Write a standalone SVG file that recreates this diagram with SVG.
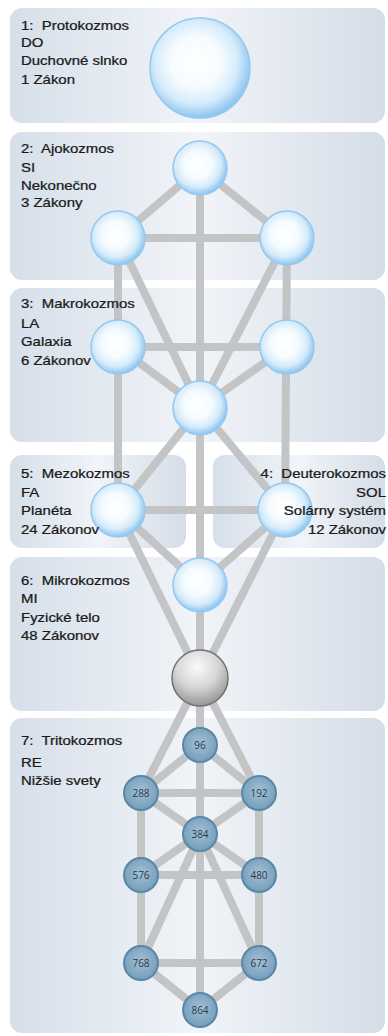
<svg xmlns="http://www.w3.org/2000/svg" width="388" height="1036" viewBox="0 0 388 1036">
<defs>
<linearGradient id="pg" x1="0" y1="0" x2="1" y2="0">
<stop offset="0" stop-color="#d6dfea"/>
<stop offset="0.5" stop-color="#f1f4f8"/>
<stop offset="1" stop-color="#d5dde8"/>
</linearGradient>
<radialGradient id="bl" cx="0.46" cy="0.44" r="0.56">
<stop offset="0" stop-color="#ffffff"/>
<stop offset="0.45" stop-color="#f6fbfe"/>
<stop offset="0.75" stop-color="#d4ebfb"/>
<stop offset="1" stop-color="#8cc4ee"/>
</radialGradient>
<radialGradient id="gr" cx="0.45" cy="0.3" r="0.75">
<stop offset="0" stop-color="#fafafa"/>
<stop offset="0.5" stop-color="#d6d6d6"/>
<stop offset="1" stop-color="#8c8c8c"/>
</radialGradient>
<radialGradient id="sb" cx="0.5" cy="0.45" r="0.6">
<stop offset="0" stop-color="#a3c2d7"/>
<stop offset="1" stop-color="#7099b7"/>
</radialGradient>
<style>
.panel{fill:url(#pg);}
.bc{fill:url(#bl);stroke:#95c9ef;stroke-width:1.5;}
.sc{fill:url(#sb);stroke:#5b87a7;stroke-width:2;}
.lbl{font-family:"Liberation Sans",Arial,sans-serif;font-size:13px;fill:#1a1a1a;stroke:#1a1a1a;stroke-width:0.25;}
.num{font-family:"Open Sans","Liberation Sans",sans-serif;font-size:10px;fill:#2b3947;text-anchor:middle;}
#connectors line{stroke:#c3c4c6;stroke-width:8;}
</style>
</defs>
<rect width="388" height="1036" fill="#ffffff"/>
<g id="panels">
<rect id="panel1" class="panel" x="10" y="8" width="375" height="115" rx="12"/>
<rect id="panel2" class="panel" x="10" y="132" width="375" height="148" rx="12"/>
<rect id="panel3" class="panel" x="10" y="288" width="375" height="154" rx="12"/>
<rect id="panel5" class="panel" x="10" y="455" width="176" height="93" rx="12"/>
<rect id="panel4" class="panel" x="213" y="455" width="172" height="93" rx="12"/>
<rect id="panel6" class="panel" x="10" y="557" width="375" height="154" rx="12"/>
<rect id="panel7" class="panel" x="10" y="718" width="375" height="315" rx="12"/>
</g>
<g id="connectors">
<line x1="200" y1="168" x2="200" y2="1010"/>
<line x1="200" y1="168" x2="118" y2="238"/>
<line x1="200" y1="168" x2="287" y2="238"/>
<line x1="118" y1="238" x2="287" y2="238"/>
<line x1="118" y1="238" x2="118" y2="510"/>
<line x1="287" y1="238" x2="285" y2="510"/>
<line x1="118" y1="238" x2="200" y2="408"/>
<line x1="287" y1="238" x2="200" y2="408"/>
<line x1="118" y1="347" x2="287" y2="347"/>
<line x1="118" y1="347" x2="200" y2="408"/>
<line x1="287" y1="347" x2="200" y2="408"/>
<line x1="200" y1="408" x2="118" y2="510"/>
<line x1="200" y1="408" x2="285" y2="510"/>
<line x1="118" y1="510" x2="285" y2="510"/>
<line x1="118" y1="510" x2="200" y2="585"/>
<line x1="285" y1="510" x2="200" y2="585"/>
<line x1="118" y1="510" x2="200" y2="678"/>
<line x1="285" y1="510" x2="200" y2="678"/>
<line x1="200" y1="678" x2="141" y2="793"/>
<line x1="200" y1="678" x2="259" y2="793"/>
<line x1="200" y1="745" x2="141" y2="793"/>
<line x1="200" y1="745" x2="259" y2="793"/>
<line x1="141" y1="793" x2="259" y2="793"/>
<line x1="141" y1="793" x2="200" y2="834"/>
<line x1="259" y1="793" x2="200" y2="834"/>
<line x1="141" y1="793" x2="141" y2="963"/>
<line x1="259" y1="793" x2="259" y2="963"/>
<line x1="141" y1="875" x2="259" y2="875"/>
<line x1="200" y1="834" x2="141" y2="875"/>
<line x1="200" y1="834" x2="259" y2="875"/>
<line x1="200" y1="834" x2="141" y2="963"/>
<line x1="200" y1="834" x2="259" y2="963"/>
<line x1="141" y1="963" x2="259" y2="963"/>
<line x1="141" y1="963" x2="200" y2="1010"/>
<line x1="259" y1="963" x2="200" y2="1010"/>
</g>
<g id="n-do"><circle class="bc" cx="200" cy="68" r="50"/></g>
<g id="n-si-top"><circle class="bc" cx="200" cy="168" r="27"/></g>
<g id="n-si-left"><circle class="bc" cx="118" cy="238" r="27"/></g>
<g id="n-si-right"><circle class="bc" cx="287" cy="238" r="27"/></g>
<g id="n-la-left"><circle class="bc" cx="118" cy="347" r="27"/></g>
<g id="n-la-right"><circle class="bc" cx="287" cy="347" r="27"/></g>
<g id="n-la-center"><circle class="bc" cx="200" cy="408" r="27"/></g>
<g id="n-fa"><circle class="bc" cx="118" cy="510" r="27"/></g>
<g id="n-sol"><circle class="bc" cx="285" cy="510" r="27"/></g>
<g id="n-mi"><circle class="bc" cx="200" cy="585" r="27"/></g>
<g id="n-sphere"><circle cx="200" cy="678" r="28" fill="url(#gr)" stroke="#727272" stroke-width="1.5"/></g>
<g id="n-96"><circle class="sc" cx="200" cy="745" r="17"/><text class="num" x="200" y="749">96</text></g>
<g id="n-288"><circle class="sc" cx="141" cy="793" r="17"/><text class="num" x="141" y="797">288</text></g>
<g id="n-192"><circle class="sc" cx="259" cy="793" r="17"/><text class="num" x="259" y="797">192</text></g>
<g id="n-384"><circle class="sc" cx="200" cy="834" r="17"/><text class="num" x="200" y="838">384</text></g>
<g id="n-576"><circle class="sc" cx="141" cy="875" r="17"/><text class="num" x="141" y="879">576</text></g>
<g id="n-480"><circle class="sc" cx="259" cy="875" r="17"/><text class="num" x="259" y="879">480</text></g>
<g id="n-768"><circle class="sc" cx="141" cy="963" r="17"/><text class="num" x="141" y="967">768</text></g>
<g id="n-672"><circle class="sc" cx="259" cy="963" r="17"/><text class="num" x="259" y="967">672</text></g>
<g id="n-864"><circle class="sc" cx="200" cy="1010" r="17"/><text class="num" x="200" y="1014">864</text></g>
<g id="labels" class="lbl">
<g transform="translate(21,0) scale(1.15,1)">
<text x="0" y="30">1:&#160; Protokozmos</text>
<text x="0" y="47">DO</text>
<text x="0" y="65">Duchovné slnko</text>
<text x="0" y="84">1 Zákon</text>
</g>
<g transform="translate(21,0) scale(1.15,1)">
<text x="0" y="153">2:&#160; Ajokozmos</text>
<text x="0" y="172">SI</text>
<text x="0" y="190">Nekonečno</text>
<text x="0" y="207">3 Zákony</text>
</g>
<g transform="translate(21,0) scale(1.15,1)">
<text x="0" y="308">3:&#160; Makrokozmos</text>
<text x="0" y="328">LA</text>
<text x="0" y="346">Galaxia</text>
<text x="0" y="365">6 Zákonov</text>
</g>
<g transform="translate(21,0) scale(1.15,1)">
<text x="0" y="478">5:&#160; Mezokozmos</text>
<text x="0" y="497">FA</text>
<text x="0" y="515">Planéta</text>
<text x="0" y="534">24 Zákonov</text>
</g>
<g transform="translate(386,0) scale(1.15,1)" text-anchor="end">
<text x="0" y="478">4:&#160; Deuterokozmos</text>
<text x="0" y="497">SOL</text>
<text x="0" y="515">Solárny systém</text>
<text x="0" y="534">12 Zákonov</text>
</g>
<g transform="translate(21,0) scale(1.15,1)">
<text x="0" y="585">6:&#160; Mikrokozmos</text>
<text x="0" y="603">MI</text>
<text x="0" y="622">Fyzické telo</text>
<text x="0" y="640">48 Zákonov</text>
</g>
<g transform="translate(21,0) scale(1.15,1)">
<text x="0" y="745">7:&#160; Tritokozmos</text>
<text x="0" y="767">RE</text>
<text x="0" y="785">Nižšie svety</text>
</g>
</g>
</svg>
